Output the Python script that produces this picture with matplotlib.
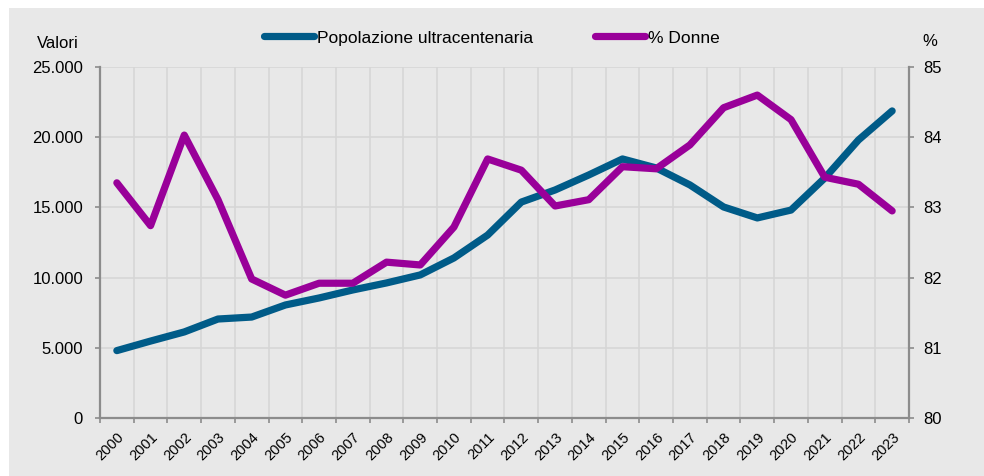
import matplotlib
matplotlib.use("Agg")
import matplotlib.pyplot as plt
from matplotlib.patches import Rectangle
from matplotlib.ticker import FuncFormatter, FixedLocator

plt.rcParams["font.family"] = ["Liberation Sans", "DejaVu Sans"]

# ── Data ──────────────────────────────────────────────────────────────────────
years = [str(y) for y in range(2000, 2024)]
popolazione = [
    4800, 5480, 6130, 7050, 7190, 8050, 8550, 9120, 9620, 10190, 11400, 13030,
    15380, 16240, 17310, 18450, 17810, 16600, 15030, 14250, 14810, 17090, 19800, 21870,
]
perc_donne = [
    83.35, 82.74, 84.03, 83.11, 81.98, 81.75, 81.92, 81.92, 82.22, 82.18, 82.72, 83.69,
    83.53, 83.02, 83.11, 83.58, 83.55, 83.89, 84.42, 84.60, 84.25, 83.43, 83.33, 82.95,
]
left_ticks = [0, 5000, 10000, 15000, 20000, 25000]
right_ticks = [80, 81, 82, 83, 84, 85]

BLUE = "#005b88"
PURPLE = "#990099"
BG = "#e8e8e8"
GRID = "#d6d6d6"
SPINE = "#8c8c8c"

W, H = 984, 476
fig = plt.figure(figsize=(W / 100, H / 100), dpi=100)
fig.patch.set_facecolor("white")
fig.patches.append(Rectangle((9 / W, 0), 1 - 9 / W, 1 - 8 / H,
                             transform=fig.transFigure, facecolor=BG,
                             edgecolor="none", zorder=-10))

# ── Left axis: population ─────────────────────────────────────────────────────
ax = fig.add_axes([100 / W, 1 - 418 / H, 809 / W, 351 / H])
ax.set_facecolor(BG)
x = list(range(len(years)))
ax.plot(x, popolazione, color=BLUE, lw=5.2, solid_capstyle="round",
        solid_joinstyle="round", label="Popolazione ultracentenaria", zorder=3)
ax.set_xlim(-0.5, len(years) - 0.5)
ax.set_ylim(0, 25000)
ax.yaxis.set_major_locator(FixedLocator(left_ticks))
ax.yaxis.set_major_formatter(FuncFormatter(lambda v, _: f"{int(v):,}".replace(",", ".")))

ax.set_xticks(x)
ax.set_xticklabels(years, rotation=45, ha="right", va="top", rotation_mode="anchor")
ax.set_xticks([i - 0.5 for i in range(len(years) + 1)], minor=True)
ax.tick_params(axis="x", which="major", length=0, pad=8.5, labelsize=10.5)
ax.tick_params(axis="x", which="minor", length=3.6, width=1.2, color=SPINE)
ax.tick_params(axis="y", length=3.6, width=1.2, color=SPINE, labelsize=12, pad=8.6)
ax.grid(axis="x", which="minor", color=GRID, lw=1.2)
ax.grid(axis="y", which="major", color=GRID, lw=1.2)
ax.set_axisbelow(True)
for side in ["top", "right"]:
    ax.spines[side].set_visible(False)
for side in ["left", "bottom"]:
    ax.spines[side].set_color(SPINE)
    ax.spines[side].set_linewidth(1.6)

# ── Right axis: % women ───────────────────────────────────────────────────────
ax2 = ax.twinx()
ax2.plot(x, perc_donne, color=PURPLE, lw=5.2, solid_capstyle="round",
         solid_joinstyle="round", label="% Donne", zorder=3)
ax2.set_ylim(80, 85)
ax2.yaxis.set_major_locator(FixedLocator(right_ticks))
ax2.tick_params(axis="y", length=3.6, width=1.2, color=SPINE, labelsize=12, pad=6.5)
for side in ["top", "left", "bottom"]:
    ax2.spines[side].set_visible(False)
ax2.spines["right"].set_color(SPINE)
ax2.spines["right"].set_linewidth(1.6)

h1, l1 = ax.get_legend_handles_labels()
h2, l2 = ax2.get_legend_handles_labels()
fig.legend(h1 + h2, l1 + l2, loc="center", bbox_to_anchor=(492 / W, 1 - 38 / H),
           ncol=2, frameon=False, fontsize=12.5, handlelength=2.88,
           handletextpad=0.17, columnspacing=3.6)

fig.text(58 / W, 1 - 43 / H, "Valori", ha="center", va="center", fontsize=12)
fig.text(930 / W, 1 - 42 / H, "%", ha="center", va="center", fontsize=12)

fig.savefig("out.png", dpi=100)
